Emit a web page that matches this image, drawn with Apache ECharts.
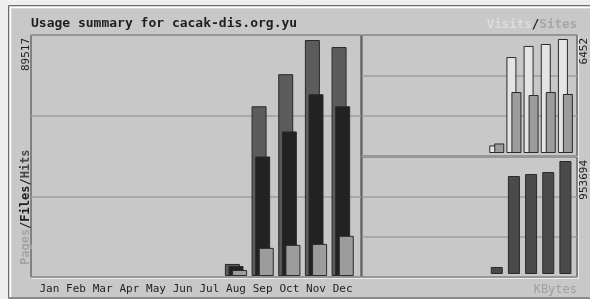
<!DOCTYPE html>
<html>
<head>
<meta charset="utf-8">
<script src="https://cdn.jsdelivr.net/npm/echarts@6/dist/echarts.min.js"></script>
<style>
  html, body { margin: 0; padding: 0; background: #eeeeee; }
  #chart { width: 590px; height: 299px; }
</style>
</head>
<body>
<div id="chart"></div>
<script>
// data
var months = ['Jan', 'Feb', 'Mar', 'Apr', 'May', 'Jun', 'Jul', 'Aug', 'Sep', 'Oct', 'Nov', 'Dec'];
var hits   = [0, 0, 0, 0, 0, 0, 0, 4570, 64380, 76560, 89517, 86850];
var files  = [0, 0, 0, 0, 0, 0, 0, 3800, 45330, 54850, 68950, 64380];
var pages  = [0, 0, 0, 0, 0, 0, 0, 2290, 10670, 11810, 12190, 15240];
var visits = [0, 0, 0, 0, 0, 0, 0, 430, 5430, 6060, 6170, 6452];
var sites  = [0, 0, 0, 0, 0, 0, 0, 540, 3450, 3280, 3450, 3340];
var kbytes = [0, 0, 0, 0, 0, 0, 0, 59080, 827100, 844000, 860900, 953694];
var maxLabels = ['89517', '6452', '953694'];

// empty months get no bar
function nz(arr) {
    return arr.map(function (v) { return v === 0 ? '-' : v; });
}

var myChart = echarts.init(document.getElementById('chart'));

var mono = '"DejaVu Sans Mono", monospace';
var edge = '#3a3a3a';
var gridLine = { color: '#9e9e9e', width: 1.5 };

function frameY(i) {
    return {
        gridIndex: i, type: 'value', min: 0, max: 3, interval: 1,
        axisLabel: { show: false }, axisLine: { show: false }, axisTick: { show: false },
        splitLine: { show: true, lineStyle: gridLine }
    };
}
function hiddenY(i, max) {
    return { gridIndex: i, type: 'value', min: 0, max: max, show: false };
}
function catX(i, showLabels) {
    return {
        gridIndex: i, type: 'category', data: months, show: showLabels,
        axisLine: { show: false }, axisTick: { show: false },
        axisLabel: { interval: 0, margin: 8, fontFamily: mono, fontSize: 11, color: '#1e1e1e' }
    };
}
function bar(name, x, data, color, width, gap) {
    return {
        name: name, type: 'bar', xAxisIndex: x, yAxisIndex: x,
        data: nz(data), barWidth: width, barGap: gap,
        itemStyle: { color: color, borderColor: '#2a2a2a', borderWidth: 1 },
        animation: false
    };
}

var option = {
    backgroundColor: '#eeeeee',
    animation: false,
    grid: [
        // frames
        { left: 31, top: 35, width: 330, height: 242, show: true, borderColor: edge, borderWidth: 1 },
        { left: 362, top: 35, width: 215, height: 121, show: true, borderColor: edge, borderWidth: 1 },
        { left: 362, top: 157, width: 215, height: 120, show: true, borderColor: edge, borderWidth: 1 },
        // data
        { left: 36, top: 35, width: 320, height: 241 },
        { left: 368, top: 35, width: 206, height: 118 },
        { left: 368, top: 157, width: 206, height: 117 }
    ],
    xAxis: [
        { gridIndex: 0, type: 'value', show: false },
        { gridIndex: 1, type: 'value', show: false },
        { gridIndex: 2, type: 'value', show: false },
        catX(3, true),
        catX(4, false),
        catX(5, false)
    ],
    yAxis: [
        frameY(0), frameY(1), frameY(2),
        hiddenY(3, 89517 * 241 / 236),
        hiddenY(4, 6452 * 118 / 114),
        hiddenY(5, 953694 * 117 / 113)
    ],
    series: [
        bar('Hits', 3, hits, '#5c5c5c', 15, '-76%'),
        bar('Files', 3, files, '#222222', 15, '-76%'),
        bar('Pages', 3, pages, '#9c9c9c', 15, '-76%'),
        bar('Visits', 4, visits, '#e4e4e4', 10, '-50%'),
        bar('Sites', 4, sites, '#9c9c9c', 10, '-50%'),
        bar('KBytes', 5, kbytes, '#4a4a4a', 12, '0%')
    ],
    graphic: [
        { type: 'rect', z: -10, shape: { x: 8.5, y: 5.5, width: 600, height: 292 },
          style: { fill: '#c8c8c8', stroke: '#6a6a6a', lineWidth: 1 } },
        { type: 'polyline', z: -9, shape: { points: [[10.5, 297], [10.5, 7.5], [600, 7.5]] },
          style: { stroke: '#ffffff', lineWidth: 1.5, fill: null } },
        { type: 'line', z: -9, shape: { x1: 8, y1: 298, x2: 600, y2: 298 },
          style: { stroke: '#8a8a8a', lineWidth: 2 } },
        { type: 'polyline', z: -8, shape: { points: [[32, 278.5], [362, 278.5], [362, 36]] },
          style: { stroke: '#ececec', lineWidth: 1, fill: null } },
        { type: 'polyline', z: -8, shape: { points: [[363, 278.5], [578.5, 278.5], [578.5, 36]] },
          style: { stroke: '#ececec', lineWidth: 1, fill: null } },
        { type: 'text', x: 31, y: 24,
          style: { text: 'Usage summary for cacak-dis.org.yu', fontFamily: mono, fontSize: 13,
                   fontWeight: 'bold', fill: '#1e1e1e', align: 'left', verticalAlign: 'middle' } },
        { type: 'text', x: 577, y: 25,
          style: { text: '{v|Visits}{s|/}{t|Sites}', align: 'right', verticalAlign: 'middle',
                   rich: {
                       v: { fontFamily: mono, fontSize: 12.5, fontWeight: 'bold', fill: '#dcdcdc' },
                       s: { fontFamily: mono, fontSize: 12.5, fontWeight: 'bold', fill: '#1e1e1e' },
                       t: { fontFamily: mono, fontSize: 12.5, fontWeight: 'bold', fill: '#a6a6a6' }
                   } } },
        { type: 'text', x: 577, y: 290,
          style: { text: 'KBytes', fontFamily: mono, fontSize: 12, fill: '#a0a0a0',
                   align: 'right', verticalAlign: 'middle' } },
        { type: 'text', x: 26, y: 265, rotation: Math.PI / 2,
          style: { text: '{p|Pages}{s|/}{f|Files}{s|/}{h|Hits}', align: 'left', verticalAlign: 'middle',
                   rich: {
                       p: { fontFamily: mono, fontSize: 12, fontWeight: 'bold', fill: '#a4a4a4' },
                       s: { fontFamily: mono, fontSize: 12, fontWeight: 'bold', fill: '#1e1e1e' },
                       f: { fontFamily: mono, fontSize: 12, fontWeight: 'bold', fill: '#1e1e1e' },
                       h: { fontFamily: mono, fontSize: 12, fontWeight: 'bold', fill: '#4a4a4a' }
                   } } },
        { type: 'text', x: 26, y: 38, rotation: Math.PI / 2,
          style: { text: maxLabels[0], fontFamily: mono, fontSize: 11, fill: '#1e1e1e',
                   align: 'right', verticalAlign: 'middle' } },
        { type: 'text', x: 584, y: 38, rotation: Math.PI / 2,
          style: { text: maxLabels[1], fontFamily: mono, fontSize: 11, fill: '#1e1e1e',
                   align: 'right', verticalAlign: 'middle' } },
        { type: 'text', x: 584, y: 160, rotation: Math.PI / 2,
          style: { text: maxLabels[2], fontFamily: mono, fontSize: 11, fill: '#1e1e1e',
                   align: 'right', verticalAlign: 'middle' } }
    ]
};

myChart.setOption(option);
</script>
</body>
</html>
